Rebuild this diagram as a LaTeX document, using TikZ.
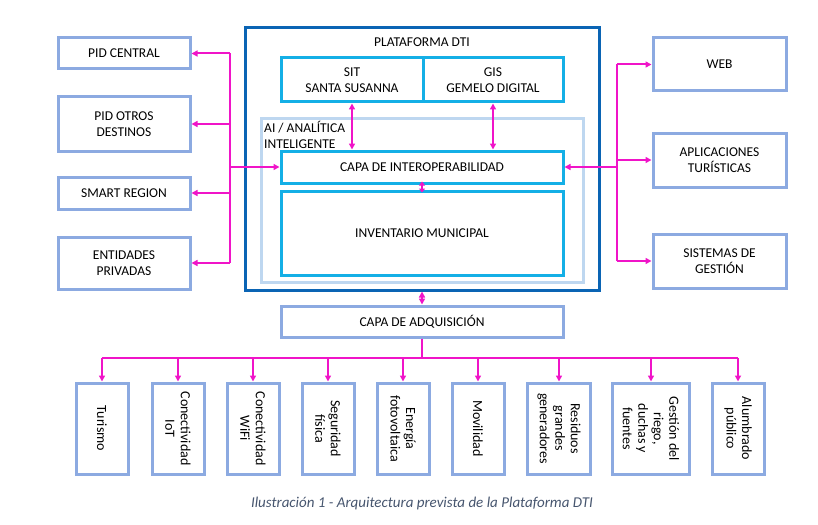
\documentclass[tikz,border=0pt]{standalone}
\usepackage{fontspec}
\setmainfont{Carlito}
\usetikzlibrary{arrows.meta}
\definecolor{dark}{RGB}{10,100,180}
\definecolor{cyanb}{RGB}{20,175,230}
\definecolor{lightb}{RGB}{190,215,240}
\definecolor{lav}{RGB}{140,170,225}
\definecolor{mag}{RGB}{240,20,200}
\definecolor{cap}{RGB}{70,85,110}
\begin{document}
\begin{tikzpicture}[x=1pt,y=-1pt,
  font=\fontsize{13.5}{16}\selectfont,
  side/.style={draw=lav,line width=3pt,align=center,inner sep=0pt},
  cy/.style={draw=cyanb,line width=3pt,align=center,inner sep=0pt},
  vert/.style={draw=lav,line width=3pt,inner sep=0pt},
  con/.style={draw=mag,line width=2pt,-{Triangle[length=6pt,width=6pt]}},
  dcon/.style={draw=mag,line width=2pt,{Triangle[length=6pt,width=6pt]}-{Triangle[length=6pt,width=6pt]}},
  scon/.style={draw=mag,line width=2pt,{Triangle[length=4pt,width=6pt]}-{Triangle[length=4pt,width=6pt]}},
  vl/.style={rotate=-90,align=center,font=\fontsize{14}{15.5}\selectfont}]
\useasboundingbox (0,0) rectangle (818,524);
% platform
\node[draw=dark,line width=3pt,minimum width=354pt,minimum height=262pt,inner sep=0pt] (plat) at (422,159) {};
\node (ptitle) at (422,42) {PLATAFORMA DTI};
\node[draw=lightb,line width=3pt,minimum width=322pt,minimum height=164pt,inner sep=0pt] (ai) at (422,200) {};
\node[anchor=north west,align=left,inner sep=0pt] (ailab) at (264,121) {AI / ANALÍTICA\\INTELIGENTE};
\node[cy,minimum width=142pt,minimum height=44pt] (sit) at (352,80) {SIT\\SANTA SUSANNA};
\node[cy,minimum width=140pt,minimum height=44pt] (gis) at (493,80) {GIS\\GEMELO DIGITAL};
\node[cy,minimum width=282pt,minimum height=32pt] (interop) at (422,167) {CAPA DE INTEROPERABILIDAD};
\node[cy,minimum width=282pt,minimum height=84pt] (inv) at (422,233) {INVENTARIO MUNICIPAL};
\node[side,minimum width=282pt,minimum height=31pt] (adq) at (422,321.5) {CAPA DE ADQUISICIÓN};
% left
\node[side,minimum width=132pt,minimum height=31pt] (l1) at (124,53.5) {PID CENTRAL};
\node[side,minimum width=132pt,minimum height=54pt] (l2) at (124,124) {PID OTROS\\DESTINOS};
\node[side,minimum width=132pt,minimum height=32pt] (l3) at (124,193) {SMART REGION};
\node[side,minimum width=132pt,minimum height=52pt] (l4) at (124,263) {ENTIDADES\\PRIVADAS};
% right
\node[side,minimum width=133pt,minimum height=53pt] (r1) at (719.5,64.5) {WEB};
\node[side,minimum width=133pt,minimum height=54pt] (r2) at (719.5,160) {APLICACIONES\\TURÍSTICAS};
\node[side,minimum width=133pt,minimum height=54pt] (r3) at (719.5,261) {SISTEMAS DE\\GESTIÓN};
% bottom
\foreach \n/\x/\w/\t in {b1/102/52/Turismo, b2/178/52/{Conectividad\\IoT}, b3/253/52/{Conectividad\\WiFi}, b4/328/52/{Seguridad\\física}, b5/403/52/{Energía\\fotovoltaica}, b6/478/52/Movilidad, b7/559/63/{Residuos\\grandes\\generadores}, b8/651/77/{Gestión del\\riego,\\duchas y\\fuentes}, b9/738/52/{Alumbrado\\público}}{
  \node[vert,minimum width=\w pt,minimum height=91pt] (\n) at (\x,428.5) {};
  \node[vl] at (\n) {\t};
}
\node[font=\itshape\fontsize{15}{17}\selectfont,text=cap] (caption) at (422,503) {Ilustración 1 - Arquitectura prevista de la Plataforma DTI};
% connectors
\draw[mag,line width=2pt] (230,53.5) -- (230,263);
\foreach \n in {l1,l2,l3,l4}{ \draw[con] (230,0 |- \n.east) -- (\n.east); }
\draw[con] (230,0 |- interop.west) -- (interop.west);
\draw[mag,line width=2pt] (617,64.5) -- (617,261);
\foreach \n in {r1,r2,r3}{ \draw[con] (617,0 |- \n.west) -- (\n.west); }
\draw[con] (617,0 |- interop.east) -- (interop.east);
\draw[dcon] (sit.south) -- (sit.south |- interop.north);
\draw[dcon] (gis.south) -- (gis.south |- interop.north);
\draw[scon,shorten <=-3pt,shorten >=-3pt] (interop.south) -- (inv.north);
\draw[dcon] (plat.south) -- (adq.north);
\draw[mag,line width=2pt] (adq.south) -- (422,358);
\draw[mag,line width=2pt] (102,358) -- (738,358);
\foreach \n in {b1,b2,b3,b4,b5,b6,b7,b8,b9}{ \draw[con] (\n.north |- 0,358) -- (\n.north); }
\end{tikzpicture}
\end{document}
